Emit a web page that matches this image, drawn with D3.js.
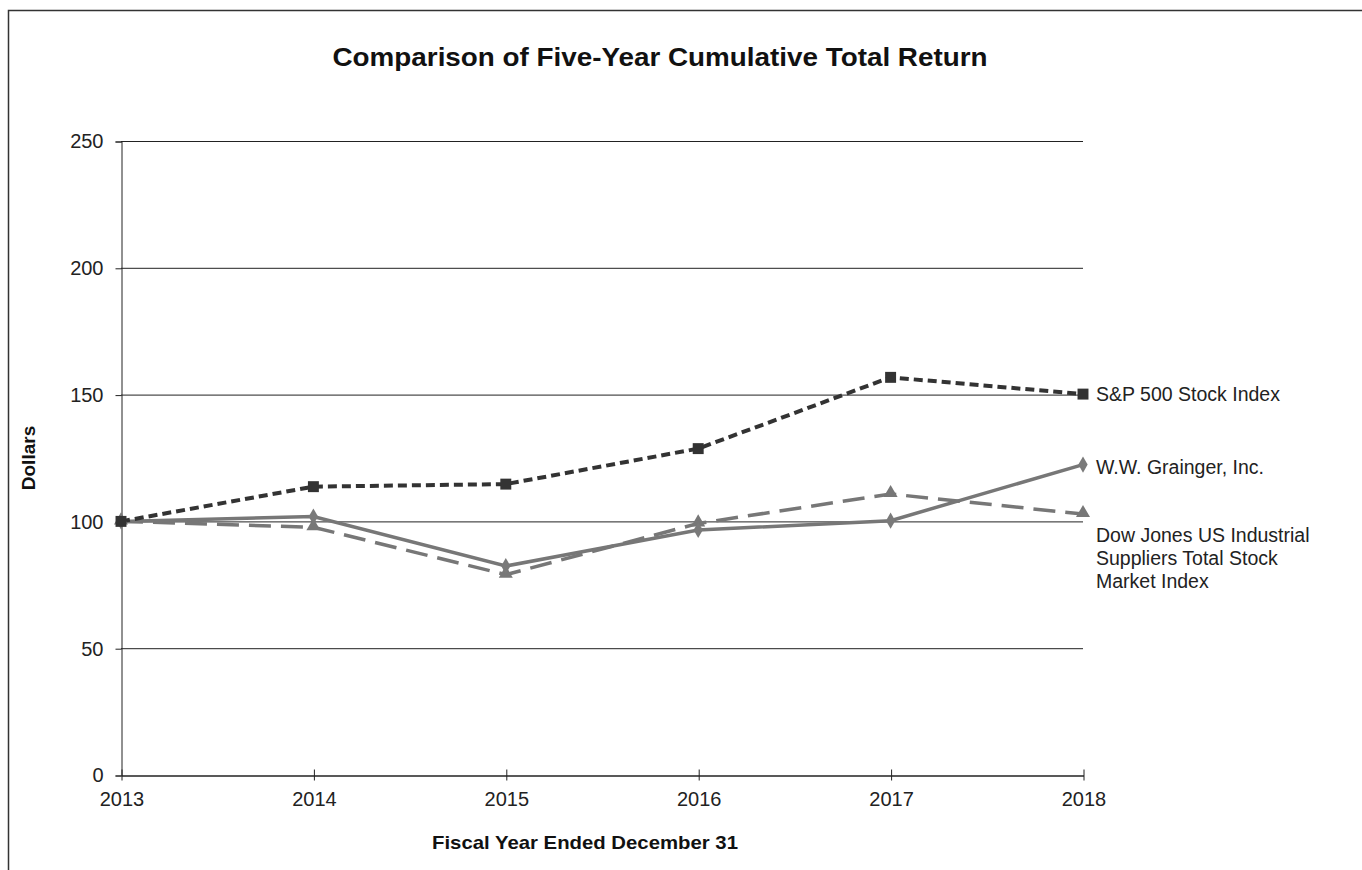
<!DOCTYPE html>
<html>
<head>
<meta charset="utf-8">
<script src="https://cdn.jsdelivr.net/npm/d3@7"></script>
<style>
  body { margin: 0; background: #fff; }
  text { font-family: "Liberation Sans", Arial, sans-serif; }
</style>
</head>
<body>
<div id="chart"></div>
<script>
// Data
var years = [2013, 2014, 2015, 2016, 2017, 2018];
var sp500     = [100, 113.7, 114.7, 128.7, 156.8, 150.2];
var grainger  = [100, 101.9, 82.4, 96.6, 100.3, 122.4];
var dowJones  = [100, 97.7, 79.0, 99.2, 110.8, 102.9];
var yTicks = [0, 50, 100, 150, 200, 250];

var seriesNames = [
  ["S&P 500 Stock Index"],
  ["W.W. Grainger, Inc."],
  ["Dow Jones US Industrial", "Suppliers Total Stock", "Market Index"]
];

var width = 1362, height = 870;
var plotLeft = 121, plotRight = 1083, plotTop = 141, plotBottom = 775;

var svg = d3.select("#chart")
  .append("svg")
    .attr("width", width)
    .attr("height", height);

// outer frame (only top and left edges show in the picture)
svg.append("path")
  .attr("d", "M8.5," + height + "V10.5H" + width)
  .attr("fill", "none")
  .attr("stroke", "#333")
  .attr("stroke-width", 1.5);

var x = d3.scalePoint().domain(years).range([plotLeft, plotRight]);
var y = d3.scaleLinear().domain([0, 250]).range([plotBottom, plotTop]);

// Gridlines
svg.append("g")
  .selectAll("line")
  .data(yTicks.filter(function(d) { return d > 0; }))
  .join("line")
    .attr("x1", plotLeft)
    .attr("x2", plotRight)
    .attr("y1", function(d) { return y(d) + 0.5; })
    .attr("y2", function(d) { return y(d) + 0.5; })
    .attr("stroke", "#222")
    .attr("stroke-width", 1);

// Y axis
var yAxis = svg.append("g")
  .attr("transform", "translate(" + (plotLeft + 0.5) + ",0.5)")
  .call(d3.axisLeft(y).tickValues(yTicks).tickSize(6).tickPadding(12));
yAxis.select(".domain").attr("stroke", "#222");
yAxis.selectAll(".tick line").attr("stroke", "#222");
yAxis.selectAll("text")
  .attr("font-size", 20)
  .attr("fill", "#222")
  .attr("font-family", "Liberation Sans, Arial, sans-serif");

// X axis
var xAxis = svg.append("g")
  .attr("transform", "translate(0.5," + (plotBottom + 0.5) + ")")
  .call(d3.axisBottom(x).tickSize(5).tickSizeOuter(0).tickPadding(11));
xAxis.select(".domain").attr("stroke", "#222").attr("stroke-width", 1.5);
xAxis.selectAll(".tick line").attr("stroke", "#222").attr("y1", -6);
xAxis.selectAll("text")
  .attr("font-size", 20)
  .attr("fill", "#222")
  .attr("font-family", "Liberation Sans, Arial, sans-serif");

// Titles
svg.append("text")
  .attr("x", 660)
  .attr("y", 66)
  .attr("text-anchor", "middle")
  .attr("font-size", 26)
  .attr("font-weight", "bold")
  .attr("fill", "#111")
  .attr("textLength", 655)
  .attr("lengthAdjust", "spacingAndGlyphs")
  .text("Comparison of Five-Year Cumulative Total Return");

svg.append("text")
  .attr("transform", "translate(35,458) rotate(-90)")
  .attr("text-anchor", "middle")
  .attr("font-size", 19)
  .attr("font-weight", "bold")
  .attr("fill", "#111")
  .text("Dollars");

svg.append("text")
  .attr("x", 585)
  .attr("y", 849)
  .attr("text-anchor", "middle")
  .attr("font-size", 19)
  .attr("font-weight", "bold")
  .attr("fill", "#111")
  .attr("textLength", 306)
  .attr("lengthAdjust", "spacingAndGlyphs")
  .text("Fiscal Year Ended December 31");

var line = d3.line()
  .x(function(d, i) { return x(years[i]); })
  .y(function(d) { return y(d); });

// Dow Jones - long dashes
svg.append("path")
  .datum(dowJones)
  .attr("d", line)
  .attr("fill", "none")
  .attr("stroke", "#777")
  .attr("stroke-width", 3.5)
  .attr("stroke-dasharray", "22,10");

// Grainger - solid
svg.append("path")
  .datum(grainger)
  .attr("d", line)
  .attr("fill", "none")
  .attr("stroke", "#777")
  .attr("stroke-width", 3.5);

// S&P - short dashes
svg.append("path")
  .datum(sp500)
  .attr("d", line)
  .attr("fill", "none")
  .attr("stroke", "#333")
  .attr("stroke-width", 4)
  .attr("stroke-dasharray", "9,5");

// Markers
var triangle = d3.symbol().type(d3.symbolTriangle).size(85);
svg.append("g").selectAll("path")
  .data(dowJones)
  .join("path")
    .attr("d", triangle)
    .attr("transform", function(d, i) { return "translate(" + x(years[i]) + "," + (y(d) - 1) + ")"; })
    .attr("fill", "#777");

var diamond = d3.symbol().type(d3.symbolDiamond).size(75);
svg.append("g").selectAll("path")
  .data(grainger)
  .join("path")
    .attr("d", diamond)
    .attr("transform", function(d, i) { return "translate(" + x(years[i]) + "," + y(d) + ")"; })
    .attr("fill", "#7a7a7a");

var square = d3.symbol().type(d3.symbolSquare).size(120);
svg.append("g").selectAll("path")
  .data(sp500)
  .join("path")
    .attr("d", square)
    .attr("transform", function(d, i) { return "translate(" + x(years[i]) + "," + y(d) + ")"; })
    .attr("fill", "#333");

// End labels
var lastVals = [sp500[5], grainger[5], dowJones[5]];
var labelOffsets = [0, 2, 21];
svg.append("g").selectAll("text")
  .data(seriesNames)
  .join("text")
    .attr("x", plotRight + 13)
    .attr("y", function(d, i) { return y(lastVals[i]) + labelOffsets[i] + 7; })
    .attr("font-size", 19.5)
    .attr("fill", "#222")
    .each(function(d) {
      var t = d3.select(this);
      d.forEach(function(s, j) {
        t.append("tspan")
          .attr("x", plotRight + 13)
          .attr("dy", j === 0 ? 0 : 23)
          .text(s);
      });
    });
</script>
</body>
</html>
